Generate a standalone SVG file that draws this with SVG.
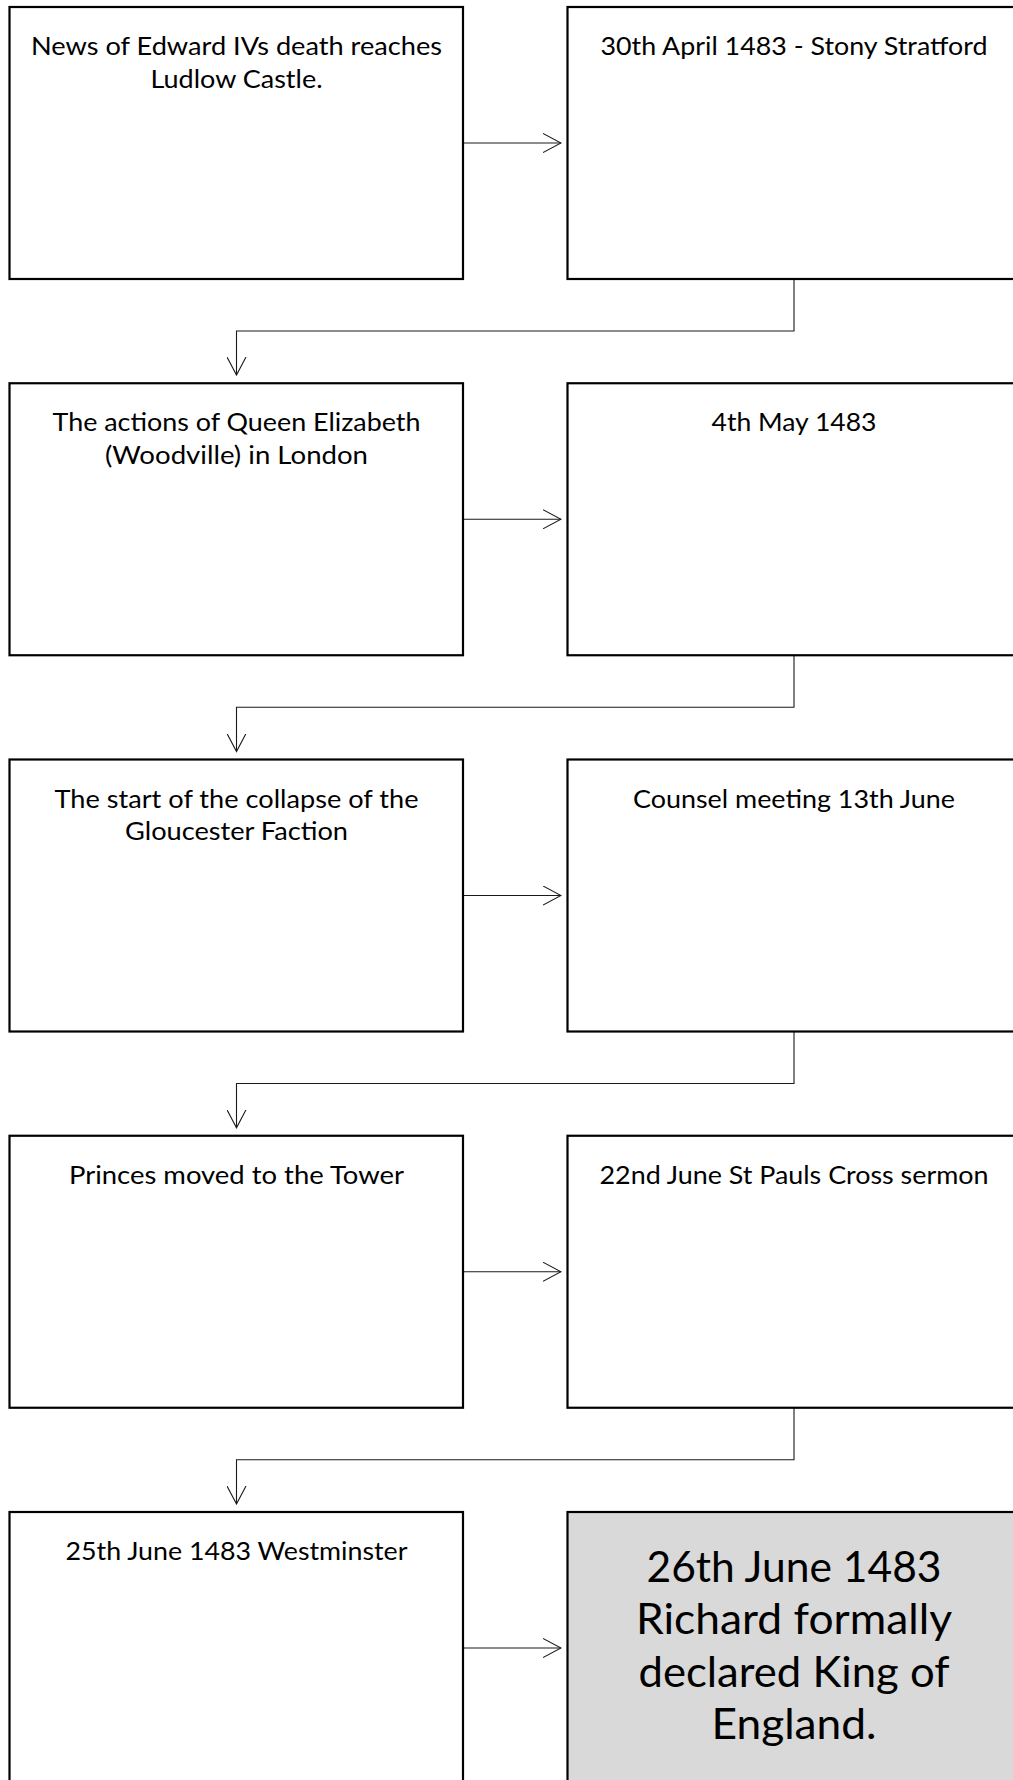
<svg xmlns="http://www.w3.org/2000/svg" width="1013" height="1780" viewBox="0 0 1013 1780">
  <style>
    .box { fill: #ffffff; stroke: #000000; stroke-width: 2.2; }
    .final { fill: #d9d9d9; stroke: #000000; stroke-width: 2.2; }
    .lbl { font-family: Lato, "Liberation Sans", sans-serif; font-size: 25.5px; fill: #000000; text-anchor: middle; }
    .big { font-family: Lato, "Liberation Sans", sans-serif; font-size: 43px; fill: #000000; text-anchor: middle; }
    .con { fill: none; stroke: #1a1a1a; stroke-width: 1.1; }
  </style>
  <defs>
    <marker id="arrow" viewBox="0 0 19 20" refX="18" refY="10" markerWidth="19" markerHeight="20" markerUnits="userSpaceOnUse" orient="auto">
      <path d="M0,0.5 L18,10 L0,19.5" fill="none" stroke="#1a1a1a" stroke-width="1.1"/>
    </marker>
  </defs>
  <rect width="1013" height="1780" fill="#ffffff"/>

  <g id="connectors">
    <line class="con" x1="463" y1="143" x2="561" y2="143" marker-end="url(#arrow)"/>
    <path class="con" d="M794,279 V331 H236.5 V375" marker-end="url(#arrow)"/>
    <line class="con" x1="463" y1="519.25" x2="561" y2="519.25" marker-end="url(#arrow)"/>
    <path class="con" d="M794,655.25 V707.25 H236.5 V751.5" marker-end="url(#arrow)"/>
    <line class="con" x1="463" y1="895.5" x2="561" y2="895.5" marker-end="url(#arrow)"/>
    <path class="con" d="M794,1031.5 V1083.5 H236.5 V1127.75" marker-end="url(#arrow)"/>
    <line class="con" x1="463" y1="1271.75" x2="561" y2="1271.75" marker-end="url(#arrow)"/>
    <path class="con" d="M794,1407.75 V1459.75 H236.5 V1504" marker-end="url(#arrow)"/>
    <line class="con" x1="463" y1="1648" x2="561" y2="1648" marker-end="url(#arrow)"/>
  </g>

  <g id="n1">
    <rect class="box" x="9.5" y="7" width="453.5" height="272"/>
    <text class="lbl" x="236.5" y="55" textLength="411" lengthAdjust="spacingAndGlyphs">News of Edward IVs death reaches</text>
    <text class="lbl" x="236.5" y="87.5" textLength="172" lengthAdjust="spacingAndGlyphs">Ludlow Castle.</text>
  </g>
  <g id="n2">
    <rect class="box" x="567.5" y="7" width="453" height="272"/>
    <text class="lbl" x="794" y="55" textLength="387" lengthAdjust="spacingAndGlyphs">30th April 1483 - Stony Stratford</text>
  </g>

  <g id="n3">
    <rect class="box" x="9.5" y="383.25" width="453.5" height="272"/>
    <text class="lbl" x="236.5" y="431.25" textLength="368" lengthAdjust="spacingAndGlyphs">The actions of Queen Elizabeth</text>
    <text class="lbl" x="236.5" y="463.75" textLength="263" lengthAdjust="spacingAndGlyphs">(Woodville) in London</text>
  </g>
  <g id="n4">
    <rect class="box" x="567.5" y="383.25" width="453" height="272"/>
    <text class="lbl" x="794" y="431.25" textLength="165" lengthAdjust="spacingAndGlyphs">4th May 1483</text>
  </g>

  <g id="n5">
    <rect class="box" x="9.5" y="759.5" width="453.5" height="272"/>
    <text class="lbl" x="236.5" y="807.5" textLength="364" lengthAdjust="spacingAndGlyphs">The start of the collapse of the</text>
    <text class="lbl" x="236.5" y="840" textLength="223" lengthAdjust="spacingAndGlyphs">Gloucester Faction</text>
  </g>
  <g id="n6">
    <rect class="box" x="567.5" y="759.5" width="453" height="272"/>
    <text class="lbl" x="794" y="807.5" textLength="322" lengthAdjust="spacingAndGlyphs">Counsel meeting 13th June</text>
  </g>

  <g id="n7">
    <rect class="box" x="9.5" y="1135.75" width="453.5" height="272"/>
    <text class="lbl" x="236.5" y="1183.75" textLength="335" lengthAdjust="spacingAndGlyphs">Princes moved to the Tower</text>
  </g>
  <g id="n8">
    <rect class="box" x="567.5" y="1135.75" width="453" height="272"/>
    <text class="lbl" x="794" y="1183.75" textLength="389" lengthAdjust="spacingAndGlyphs">22nd June St Pauls Cross sermon</text>
  </g>

  <g id="n9">
    <rect class="box" x="9.5" y="1512" width="453.5" height="272"/>
    <text class="lbl" x="236.5" y="1560" textLength="342" lengthAdjust="spacingAndGlyphs">25th June 1483 Westminster</text>
  </g>
  <g id="n10">
    <rect class="final" x="567.5" y="1512" width="453" height="272"/>
    <text class="big" x="794" y="1581.7" textLength="295" lengthAdjust="spacingAndGlyphs">26th June 1483</text>
    <text class="big" x="794" y="1634" textLength="316" lengthAdjust="spacingAndGlyphs">Richard formally</text>
    <text class="big" x="794" y="1686.7" textLength="311" lengthAdjust="spacingAndGlyphs">declared King of</text>
    <text class="big" x="794" y="1739.3" textLength="165" lengthAdjust="spacingAndGlyphs">England.</text>
  </g>
</svg>
